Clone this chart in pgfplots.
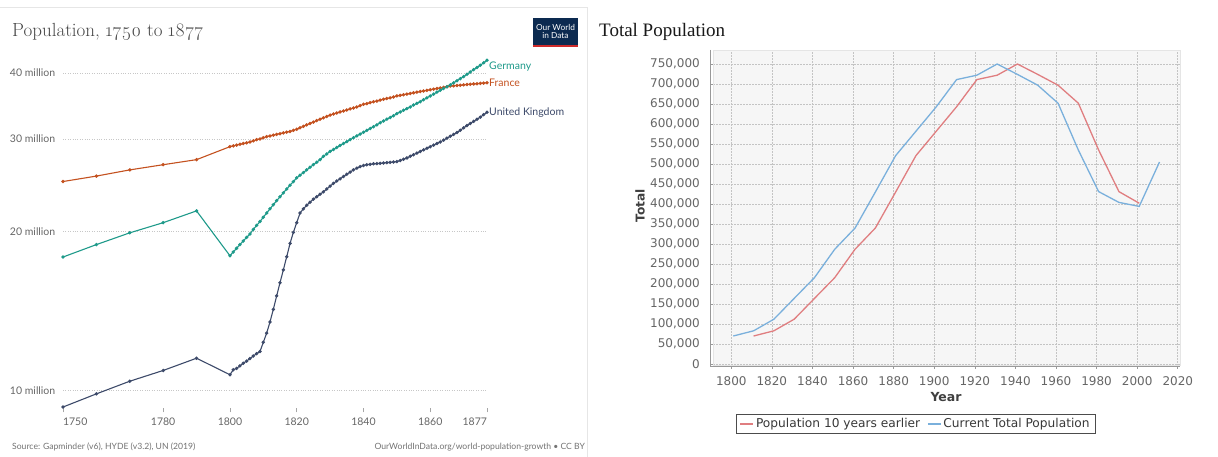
\documentclass[border=0pt]{standalone}
\usepackage{pgfplots}
\pgfplotsset{compat=1.18}
\usepackage{fontspec}
\newfontfamily\lato{Lato}
\newfontfamily\dejavu{DejaVu Sans}
\newfontfamily\libserif{Liberation Serif}
\newfontfamily\lmold{Latin Modern Roman}[Numbers=OldStyle]
\definecolor{germany}{HTML}{1E9A8A}
\definecolor{france}{HTML}{C4511F}
\definecolor{uk}{HTML}{3D4A6A}
\definecolor{popred}{HTML}{E07E80}
\definecolor{popblue}{HTML}{7AB0DC}
\definecolor{owidnavy}{HTML}{0C2A50}
\definecolor{owidred}{HTML}{CE2A2A}
\definecolor{ltext}{HTML}{666666}
\definecolor{plotbg}{HTML}{F6F6F6}
\definecolor{gridc}{HTML}{C4C4C4}
\definecolor{cardline}{HTML}{E6E6E6}
\begin{document}
\begin{tikzpicture}[x=1pt,y=1pt]
\path[use as bounding box, fill=white] (0,0) rectangle (1218,-457);
% card border of left chart
\draw[cardline, line width=0.8pt] (0,-7) -- (587,-7) -- (587,-457);
% ---------------- LEFT CHART ----------------
\node[anchor=base west, inner sep=0pt, text=black!72, font=\lmold\fontsize{19}{21}\selectfont] at (12,-36.5) {Population, 1750 to 1877};
% OWID logo
\fill[owidnavy] (533,-18) rectangle (578,-45);
\fill[owidred] (533,-45) rectangle (578,-47.5);
\node[text=white, align=center, inner sep=0pt, font=\lato\fontsize{8.3}{8.8}\selectfont] at (555.5,-31.5) {Our World\\in Data};
\begin{axis}[
  at={(63pt,-410pt)}, anchor=south west,
  scale only axis, width=424pt, height=355pt,
  xmin=1750, xmax=1877, ymin=9.17, ymax=43.3,
  ymode=log,
  axis line style={draw=none},
  clip=false,
  ytick={10,20,30,40},
  yticklabels={10 million,20 million,30 million,40 million},
  xtick={1750,1780,1800,1820,1840,1860,1877},
  xticklabels={\makebox[0pt][l]{1750},1780,1800,1820,1840,1860,\makebox[0pt][r]{1877}},
  ymajorgrids,
  grid style={draw=black!22, line width=0.6pt, dash pattern=on 0.8pt off 1.6pt},
  ytick style={draw=none},
  xtick style={draw=black!35, line width=0.6pt},
  xtick pos=bottom, tick align=center, major tick length=5pt,
  minor tick num=0,
  tick label style={font=\lato\fontsize{10.5}{12}\selectfont, text=ltext},
  yticklabel style={inner sep=0pt, xshift=-5pt},
  xticklabel style={inner sep=0pt, yshift=-5.5pt},
  every axis plot/.append style={line width=1.1pt, mark=*, mark size=1.1pt},
]
\addplot[france, mark options={fill=france, draw=france}] coordinates {
(1750,24.9)(1760,25.5)(1770,26.2)(1780,26.8)(1790,27.4)
(1800,29.0)(1801,29.1)(1802,29.2)(1803,29.3)(1804,29.4)(1805,29.5)(1806,29.6)(1807,29.75)(1808,29.9)(1809,30.0)
(1810,30.15)(1811,30.3)(1812,30.4)(1813,30.5)(1814,30.6)(1815,30.7)(1816,30.8)(1817,30.9)(1818,31.0)(1819,31.15)
(1820,31.3)(1821,31.5)(1822,31.7)(1823,31.9)(1824,32.1)(1825,32.3)(1826,32.5)(1827,32.7)(1828,32.9)(1829,33.1)
(1830,33.3)(1831,33.45)(1832,33.6)(1833,33.75)(1834,33.9)(1835,34.05)(1836,34.2)(1837,34.35)(1838,34.5)(1839,34.7)
(1840,34.9)(1841,35.0)(1842,35.15)(1843,35.3)(1844,35.4)(1845,35.55)(1846,35.7)(1847,35.8)(1848,35.9)(1849,36.05)
(1850,36.2)(1851,36.3)(1852,36.4)(1853,36.5)(1854,36.6)(1855,36.7)(1856,36.8)(1857,36.9)(1858,37.0)(1859,37.1)
(1860,37.2)(1861,37.3)(1862,37.4)(1863,37.5)(1864,37.6)(1865,37.7)(1866,37.8)(1867,37.85)(1868,37.9)(1869,37.95)
(1870,38.0)(1871,38.05)(1872,38.1)(1873,38.15)(1874,38.2)(1875,38.25)(1876,38.3)(1877,38.35)
};
\addplot[germany, mark options={fill=germany, draw=germany}] coordinates {
(1750,17.9)(1760,18.9)(1770,19.9)(1780,20.8)(1790,21.9)
(1800,18.0)(1801,18.3)(1802,18.6)(1803,18.9)(1804,19.2)(1805,19.5)(1806,19.8)(1807,20.2)(1808,20.55)(1809,20.9)
(1810,21.3)(1811,21.7)(1812,22.1)(1813,22.5)(1814,22.9)(1815,23.3)(1816,23.7)(1817,24.1)(1818,24.5)(1819,24.9)
(1820,25.3)(1821,25.6)(1822,25.9)(1823,26.2)(1824,26.5)(1825,26.8)(1826,27.1)(1827,27.4)(1828,27.8)(1829,28.1)
(1830,28.4)(1831,28.65)(1832,28.9)(1833,29.15)(1834,29.4)(1835,29.65)(1836,29.9)(1837,30.15)(1838,30.4)(1839,30.65)
(1840,30.9)(1841,31.15)(1842,31.4)(1843,31.65)(1844,31.9)(1845,32.2)(1846,32.45)(1847,32.7)(1848,32.95)(1849,33.2)
(1850,33.5)(1851,33.75)(1852,34.0)(1853,34.25)(1854,34.5)(1855,34.8)(1856,35.05)(1857,35.3)(1858,35.6)(1859,35.9)
(1860,36.2)(1861,36.5)(1862,36.8)(1863,37.1)(1864,37.4)(1865,37.7)(1866,38.0)(1867,38.35)(1868,38.7)(1869,39.05)
(1870,39.4)(1871,39.8)(1872,40.2)(1873,40.6)(1874,41.0)(1875,41.4)(1876,41.85)(1877,42.3)
};
\addplot[uk, mark options={fill=uk, draw=uk}] coordinates {
(1750,9.29)(1760,9.84)(1770,10.4)(1780,10.9)(1790,11.5)
(1800,10.7)(1801,10.93)(1802,11.0)(1803,11.12)(1804,11.25)(1805,11.36)(1806,11.48)(1807,11.61)(1808,11.73)(1809,11.84)
(1810,12.33)(1811,12.83)(1812,13.48)(1813,14.24)(1814,15.1)(1815,16.0)(1816,16.92)(1817,17.92)(1818,19.0)(1819,19.94)
(1820,20.8)(1821,21.7)(1822,22.1)(1823,22.45)(1824,22.75)(1825,23.05)(1826,23.3)(1827,23.55)(1828,23.8)(1829,24.1)
(1830,24.4)(1831,24.7)(1832,24.95)(1833,25.2)(1834,25.45)(1835,25.7)(1836,25.95)(1837,26.2)(1838,26.4)(1839,26.58)
(1840,26.7)(1841,26.8)(1842,26.85)(1843,26.9)(1844,26.93)(1845,26.96)(1846,27.0)(1847,27.04)(1848,27.08)(1849,27.12)
(1850,27.17)(1851,27.3)(1852,27.45)(1853,27.6)(1854,27.8)(1855,28.0)(1856,28.2)(1857,28.4)(1858,28.6)(1859,28.8)
(1860,29.0)(1861,29.2)(1862,29.4)(1863,29.6)(1864,29.85)(1865,30.1)(1866,30.35)(1867,30.6)(1868,30.85)(1869,31.15)
(1870,31.5)(1871,31.8)(1872,32.1)(1873,32.4)(1874,32.7)(1875,33.0)(1876,33.35)(1877,33.7)
};
\node[anchor=west, inner sep=0pt, text=germany, font=\lato\fontsize{10.5}{12}\selectfont] at (axis cs:1877,41.2) {\hspace{2pt}Germany};
\node[anchor=west, inner sep=0pt, text=france, font=\lato\fontsize{10.5}{12}\selectfont] at (axis cs:1877,38.35) {\hspace{2pt}France};
\node[anchor=west, inner sep=0pt, text=uk, font=\lato\fontsize{10.5}{12}\selectfont] at (axis cs:1877,33.7) {\hspace{2pt}United Kingdom};
\end{axis}
\node[anchor=base west, inner sep=0pt, text=black!55, font=\lato\fontsize{8.6}{10}\selectfont] at (12,-449) {Source: Gapminder (v6), HYDE (v3.2), UN (2019)};
\node[anchor=base east, inner sep=0pt, text=black!55, font=\lato\fontsize{8.6}{10}\selectfont] at (585,-449) {OurWorldInData.org/world-population-growth • CC BY};
% ---------------- RIGHT CHART ----------------
\node[anchor=base west, inner sep=0pt, text=black!90, font=\libserif\fontsize{19}{21}\selectfont] at (599,-37) {Total Population};
\begin{axis}[
  at={(713pt,-365.6pt)}, anchor=south west,
  scale only axis, width=467pt, height=315.6pt,
  xmin=1791, xmax=2021.1, ymin=-4000, ymax=785000,
  axis background/.style={fill=plotbg},
  axis line style={draw=black!10, line width=0.6pt},
  xtick={1800,1820,1840,1860,1880,1900,1920,1940,1960,1980,2000,2020},
  xticklabels={1800,1820,1840,1860,1880,1900,1920,1940,1960,1980,2000,2020},
  ytick={0,50000,100000,150000,200000,250000,300000,350000,400000,450000,500000,550000,600000,650000,700000,750000},
  yticklabels={0,{50,000},{100,000},{150,000},{200,000},{250,000},{300,000},{350,000},{400,000},{450,000},{500,000},{550,000},{600,000},{650,000},{700,000},{750,000}},
  scaled ticks=false,
  xticklabel style={inner sep=0pt, yshift=-8pt},
  yticklabel style={inner sep=0pt, xshift=-10pt},
  tick label style={font=\dejavu\fontsize{12}{14}\selectfont, text=black!60},
  xmajorgrids, ymajorgrids,
  grid style={draw=gridc, line width=0.6pt, dash pattern=on 1.6pt off 1.4pt},
  xtick pos=bottom, ytick pos=left, tick align=outside, major tick length=3pt,
  tick style={draw=black!40, line width=0.6pt},
  legend columns=2,
  legend style={at={(0.434,-0.185)}, anchor=center, draw=black!70, line width=0.9pt,
    font=\dejavu\fontsize{12.2}{14}\selectfont, text=black!78, inner xsep=3.5pt, inner ysep=2.5pt,
    /tikz/every even column/.append style={column sep=5pt},
    cells={anchor=west}},
  legend image code/.code={\draw[#1, line width=1.3pt] (0pt,0pt) -- (13pt,0pt);},
  every axis plot/.append style={line width=1.3pt},
]
\addplot[popred] coordinates {
(1811,70000)(1821,83000)(1831,112000)(1841,164000)(1851,216000)(1861,287000)(1871,340000)(1881,430000)
(1891,521000)(1901,582000)(1911,643000)(1921,711000)(1931,722000)(1941,750000)(1951,724000)(1961,697000)
(1971,652000)(1981,535000)(1991,431000)(2001,402000)
};
\addlegendentry{Population 10 years earlier}
\addplot[popblue] coordinates {
(1801,70000)(1811,83000)(1821,112000)(1831,164000)(1841,216000)(1851,287000)(1861,340000)(1871,430000)
(1881,521000)(1891,582000)(1901,643000)(1911,711000)(1921,722000)(1931,750000)(1941,724000)(1951,697000)
(1961,652000)(1971,535000)(1981,431000)(1991,404000)(2001,394000)(2011,505000)
};
\addlegendentry{Current Total Population}
\end{axis}
\draw[black!40, line width=0.7pt] (710.5,-50) -- (710.5,-366.5);
\draw[black!40, line width=0.7pt] (710.5,-366.5) -- (1180,-366.5);
\node[rotate=90, inner sep=0pt, text=black!75, font=\dejavu\bfseries\fontsize{12.2}{14}\selectfont] at (640,-205.8) {Total};
\node[inner sep=0pt, text=black!75, font=\dejavu\bfseries\fontsize{12.5}{14}\selectfont] at (946,-396.7) {Year};
\end{tikzpicture}
\end{document}
